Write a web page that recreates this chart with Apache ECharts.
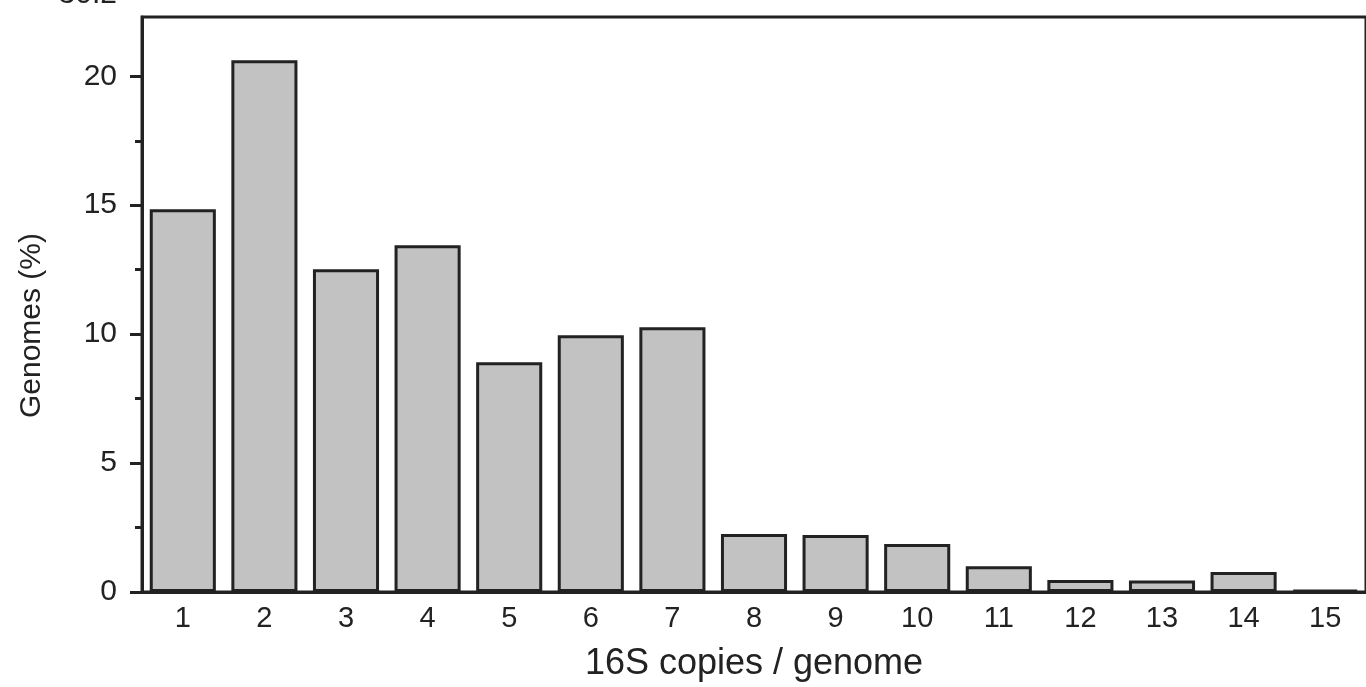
<!DOCTYPE html>
<html>
<head>
<meta charset="utf-8">
<script src="https://cdn.jsdelivr.net/npm/echarts@6/dist/echarts.min.js"></script>
<style>
html,body{margin:0;padding:0;background:#fff;}
#c{width:1366px;height:687px;}
</style>
</head>
<body>
<div id="c"></div>
<script>
const categories = ['1','2','3','4','5','6','7','8','9','10','11','12','13','14','15'];
const genomesPct = [14.84, 20.62, 12.52, 13.45, 8.91, 9.96, 10.27, 2.25, 2.21, 1.86, 1.0, 0.47, 0.45, 0.78, 0.08];
const majorTicks = [0, 5, 10, 15, 20];
const minorTicks = [2.5, 7.5, 12.5, 17.5];
const yMax = 22.3;
const topCutLabel = '30.2';

const FONT = 'Liberation Sans, Arial, Helvetica, sans-serif';
const INK = '#222222';

const chart = echarts.init(document.getElementById('c'), null, {renderer: 'canvas'});
chart.setOption({
  backgroundColor: '#ffffff',
  animation: false,
  grid: {
    left: 142, right: -5, top: 17, bottom: 95,
    show: true, borderColor: INK, borderWidth: 3, backgroundColor: 'transparent'
  },
  xAxis: {
    type: 'category',
    data: categories,
    axisLine: {lineStyle: {color: INK, width: 3}},
    axisTick: {show: false},
    axisLabel: {color: INK, fontSize: 29, fontFamily: FONT, margin: 12},
    name: '16S copies / genome',
    nameLocation: 'middle',
    nameGap: 54,
    nameTextStyle: {color: INK, fontSize: 36, fontFamily: FONT},
    splitLine: {show: false}
  },
  yAxis: [{
    type: 'value',
    min: 0, max: yMax,
    axisLine: {show: true, lineStyle: {color: INK, width: 3}},
    axisTick: {show: true, length: 12, lineStyle: {color: INK, width: 3}, customValues: majorTicks},
    axisLabel: {color: INK, fontSize: 30, fontFamily: FONT, margin: 25, customValues: majorTicks},
    splitLine: {show: false},
    name: 'Genomes (%)',
    nameLocation: 'middle',
    nameGap: 95,
    nameTextStyle: {color: INK, fontSize: 30, fontFamily: FONT, padding: [0, 42, 0, 0]}
  }, {
    type: 'value',
    position: 'left',
    min: 0, max: yMax,
    axisLine: {show: false},
    axisTick: {show: true, length: 7, lineStyle: {color: INK, width: 3}, customValues: minorTicks},
    axisLabel: {show: false},
    splitLine: {show: false}
  }],
  graphic: [{
    type: 'text',
    right: 1366 - 117,
    top: -20,
    style: {text: topCutLabel, fontSize: 30, fontFamily: FONT, fill: INK}
  }],
  series: [{
    type: 'bar',
    data: genomesPct,
    yAxisIndex: 0,
    barWidth: '81%',
    itemStyle: {color: '#c2c2c2', borderColor: INK, borderWidth: 3}
  }]
});
</script>
</body>
</html>
